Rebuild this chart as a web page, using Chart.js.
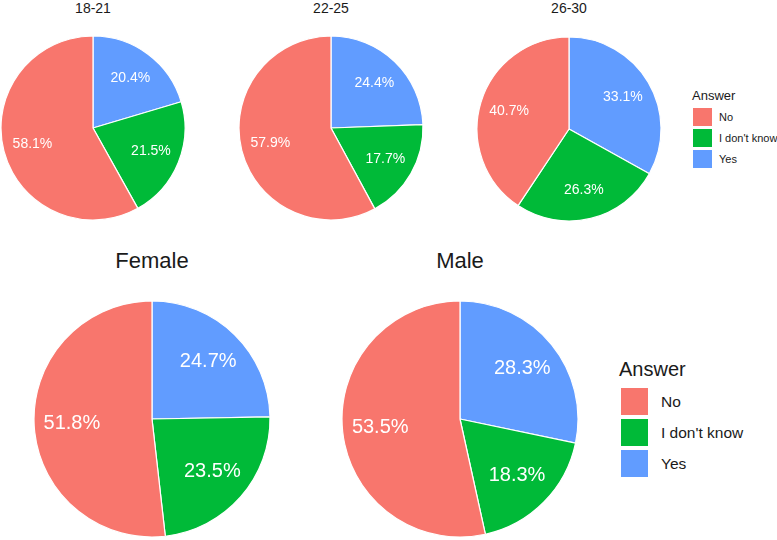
<!DOCTYPE html>
<html>
<head>
<meta charset="utf-8">
<script src="https://cdn.jsdelivr.net/npm/chart.js@4"></script>
<style>
  html, body { margin: 0; padding: 0; background: #fff; }
  body { width: 777px; height: 540px; position: relative; overflow: hidden; font-family: "Liberation Sans", Arial, sans-serif; color: #1a1a1a; }
  .pie { position: absolute; }
  .title { position: absolute; transform: translate(-50%, -50%); white-space: nowrap; color: #1a1a1a; }
  .leg { position: absolute; white-space: nowrap; }
  .box { position: absolute; }
  .lab { position: absolute; transform: translateY(-50%); white-space: nowrap; color: #1a1a1a; }
</style>
</head>
<body>
<script>
// ---- data ----
const answerCategories = ["Yes", "I don't know", "No"];        // clockwise from 12 o'clock
const legendOrder = ["No", "I don't know", "Yes"];
const panelTitles = ["18-21", "22-25", "26-30", "Female", "Male"];
const age1821 = [20.4, 21.5, 58.1];
const age2225 = [24.4, 17.7, 57.9];
const age2630 = [33.1, 26.3, 40.7];
const female = [24.7, 23.5, 51.8];
const male = [28.3, 18.3, 53.5];
const legendTitle = "Answer";

// ---- styles ----
const colorMap = { "No": "#F8766D", "I don't know": "#00BA38", "Yes": "#619CFF" };
const panels = [
  { title: panelTitles[0], data: age1821, cx: 93,  cy: 128, r: 92,  titleY: 8,   titleSize: 14, labelSize: 14 },
  { title: panelTitles[1], data: age2225, cx: 331, cy: 128, r: 92,  titleY: 8,   titleSize: 14, labelSize: 14 },
  { title: panelTitles[2], data: age2630, cx: 569, cy: 129, r: 92,  titleY: 8,   titleSize: 14, labelSize: 14 },
  { title: panelTitles[3], data: female,  cx: 152, cy: 419, r: 118, titleY: 261, titleSize: 22, labelSize: 20 },
  { title: panelTitles[4], data: male,    cx: 460, cy: 419, r: 118, titleY: 261, titleSize: 22, labelSize: 20 }
];

const pctLabels = {
  id: 'pctLabels',
  afterDatasetsDraw(chart, args, opts) {
    const ctx = chart.ctx;
    const meta = chart.getDatasetMeta(0);
    const ds = chart.data.datasets[0];
    ctx.save();
    ctx.fillStyle = '#ffffff';
    ctx.font = opts.size + 'px "Liberation Sans", Arial, sans-serif';
    ctx.textAlign = 'center';
    ctx.textBaseline = 'middle';
    meta.data.forEach((arc, i) => {
      const p = arc.getProps(['x', 'y', 'startAngle', 'endAngle', 'outerRadius'], true);
      const mid = (p.startAngle + p.endAngle) / 2;
      const rr = p.outerRadius * 0.68;
      ctx.fillText(ds.data[i].toFixed(1) + '%', p.x + Math.cos(mid) * rr, p.y + Math.sin(mid) * rr);
    });
    ctx.restore();
  }
};

panels.forEach(pn => {
  const size = 2 * pn.r + 4;
  const wrap = document.createElement('div');
  wrap.className = 'pie';
  wrap.style.left = (pn.cx - size / 2) + 'px';
  wrap.style.top = (pn.cy - size / 2) + 'px';
  wrap.style.width = size + 'px';
  wrap.style.height = size + 'px';
  const cv = document.createElement('canvas');
  wrap.appendChild(cv);
  document.body.appendChild(wrap);

  const t = document.createElement('div');
  t.className = 'title';
  t.textContent = pn.title;
  t.style.left = pn.cx + 'px';
  t.style.top = pn.titleY + 'px';
  t.style.fontSize = pn.titleSize + 'px';
  document.body.appendChild(t);

  new Chart(cv, {
    type: 'pie',
    data: {
      labels: answerCategories,
      datasets: [{
        data: pn.data,
        backgroundColor: answerCategories.map(c => colorMap[c]),
        borderColor: '#ffffff',
        borderWidth: 1.2
      }]
    },
    options: {
      responsive: true,
      maintainAspectRatio: false,
      animation: false,
      radius: pn.r,
      layout: { padding: 0 },
      plugins: {
        legend: { display: false },
        tooltip: { enabled: false },
        pctLabels: { size: pn.labelSize }
      }
    },
    plugins: [pctLabels]
  });
});

// ---- legends ----
function addLegend(x, titleY, titleSize, boxX, boxW, boxH, boxYs, labX, labSize) {
  const t = document.createElement('div');
  t.className = 'leg';
  t.textContent = legendTitle;
  t.style.left = x + 'px';
  t.style.top = titleY + 'px';
  t.style.fontSize = titleSize + 'px';
  t.style.transform = 'translateY(-50%)';
  document.body.appendChild(t);
  legendOrder.forEach((c, i) => {
    const b = document.createElement('div');
    b.className = 'box';
    b.style.left = boxX + 'px';
    b.style.top = boxYs[i] + 'px';
    b.style.width = boxW + 'px';
    b.style.height = boxH + 'px';
    b.style.background = colorMap[c];
    document.body.appendChild(b);
    const l = document.createElement('div');
    l.className = 'lab';
    l.textContent = c;
    l.style.left = labX + 'px';
    l.style.top = (boxYs[i] + boxH / 2) + 'px';
    l.style.fontSize = labSize + 'px';
    document.body.appendChild(l);
  });
}
addLegend(692, 95, 13, 693, 19, 18, [108, 129, 150], 719, 11);
addLegend(619, 369, 20, 621, 27, 27, [388, 419, 450], 661, 15.5);
</script>
</body>
</html>
